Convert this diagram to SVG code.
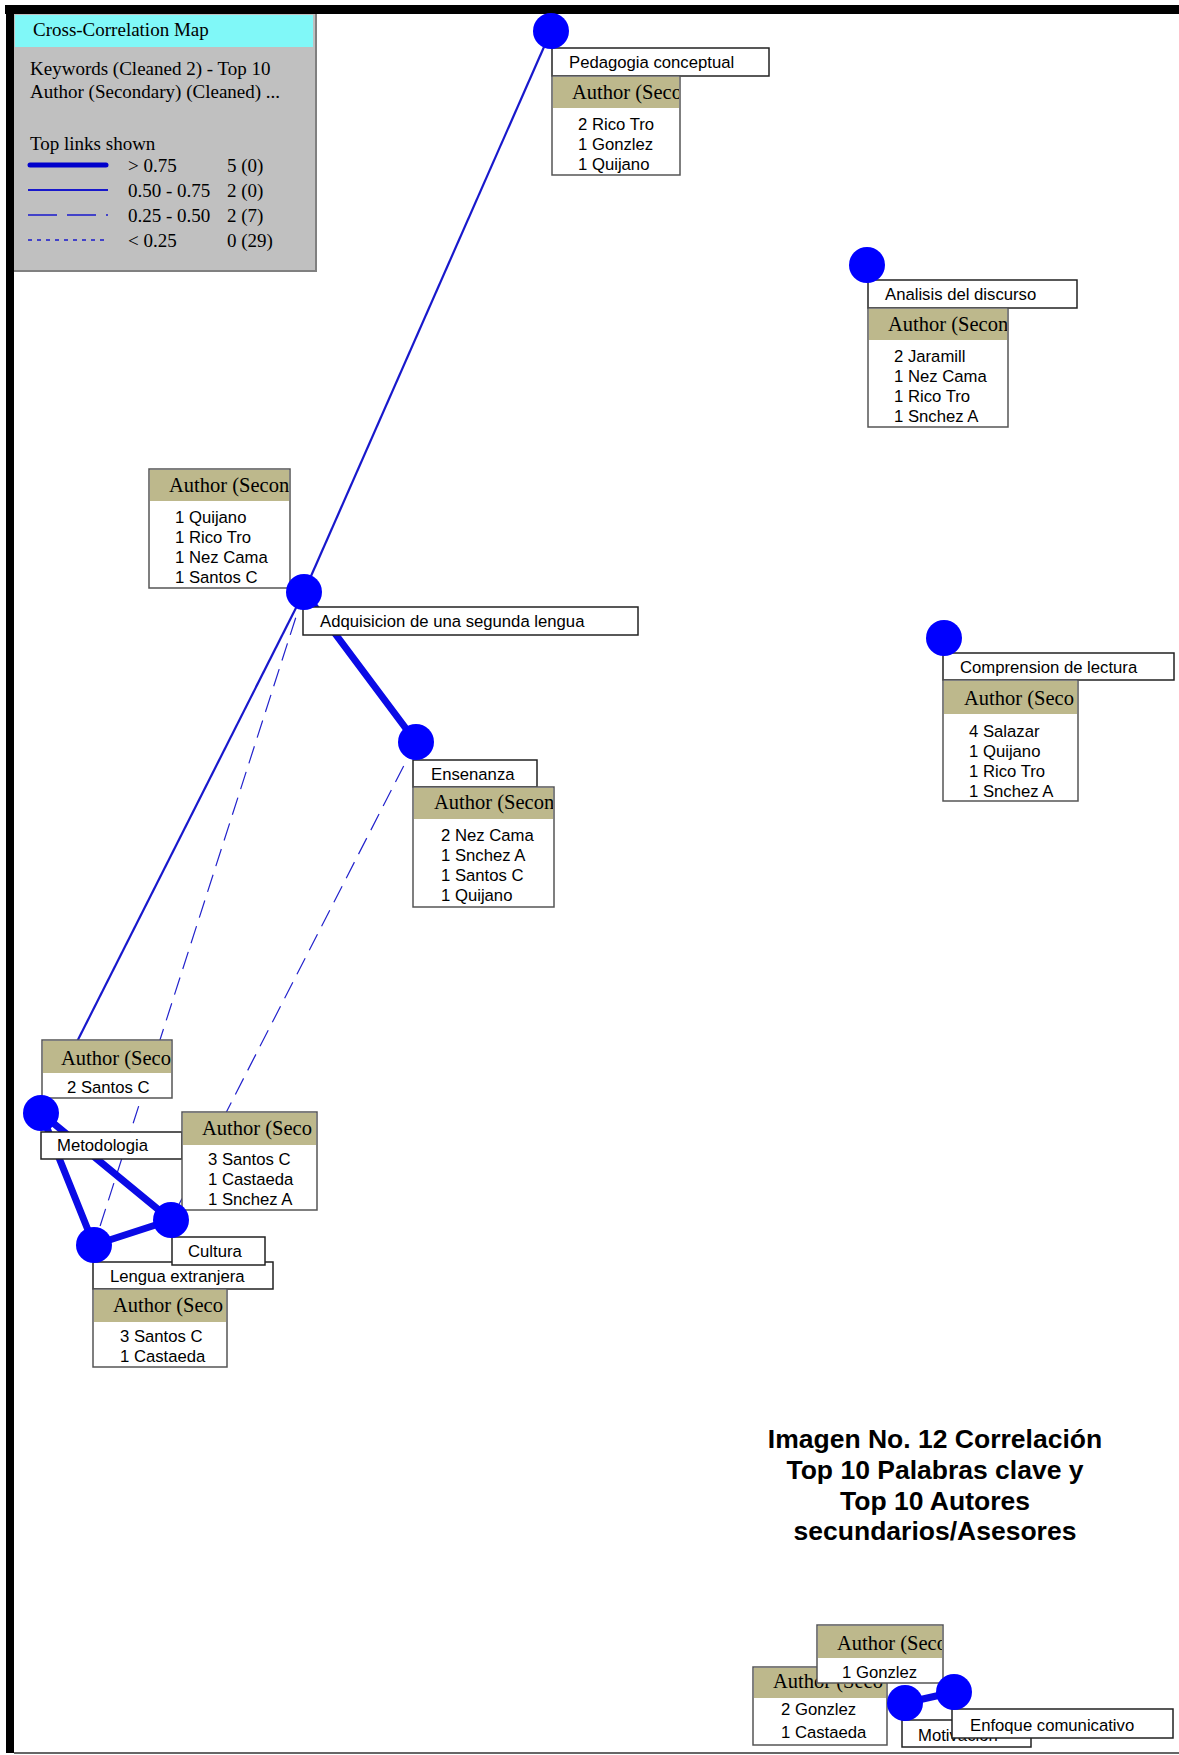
<svg xmlns="http://www.w3.org/2000/svg" width="1179" height="1755" viewBox="0 0 1179 1755">
<style>
.lb{fill:#fff;stroke:#222;stroke-width:1.5}
.ab{fill:#fff;stroke:#555;stroke-width:1.5}
.hb{fill:#bdb88c}
.t{font-family:"Liberation Sans",Arial,sans-serif;font-size:16.7px;fill:#000}
.ht{font-family:"Liberation Serif","Times New Roman",serif;font-size:20.5px;fill:#000}
.lg{font-family:"Liberation Serif","Times New Roman",serif;font-size:19px;fill:#000}
.nd{fill:#0000ff}
.thick{stroke:#0a0ae6;stroke-width:7;stroke-linecap:round;fill:none}
.med{stroke:#1818cc;stroke-width:2.2;fill:none}
.dash{stroke:#2222cc;stroke-width:1.2;stroke-dasharray:18 9;fill:none}
.cap{font-family:"Liberation Sans",Arial,sans-serif;font-size:26.5px;font-weight:bold;fill:#000;text-anchor:middle}
</style>
<rect x="0" y="0" width="1179" height="1755" fill="#fff"/>
<rect x="5" y="5" width="1174" height="9" fill="#000"/>
<rect x="6" y="5" width="8" height="1748" fill="#000"/>
<line x1="14" y1="1753" x2="1179" y2="1753" stroke="#666" stroke-width="2"/>

<g id="connectors">
<line class="med" x1="551" y1="31" x2="304" y2="592"/>
<line class="thick" x1="304" y1="592" x2="416" y2="742"/>
<line class="med" x1="304" y1="592" x2="41" y2="1113"/>
<line class="dash" x1="304" y1="592" x2="94" y2="1245"/>
<line class="dash" x1="416" y1="742" x2="171" y2="1220"/>
<line class="thick" x1="41" y1="1113" x2="171" y2="1220"/>
<line class="thick" x1="41" y1="1113" x2="94" y2="1245"/>
<line class="thick" x1="94" y1="1245" x2="171" y2="1220"/>
<line class="thick" x1="905" y1="1703" x2="954" y2="1692"/>
</g>

<g id="legend">
<rect x="14" y="14" width="303" height="258" fill="#c0c0c0"/>
<rect x="15" y="15" width="298" height="32" fill="#80f8f8"/>
<polyline points="316,14 316,271 14,271" fill="none" stroke="#808080" stroke-width="2"/>
<text class="lg" x="33" y="36">Cross-Correlation Map</text>
<text class="lg" x="30" y="75">Keywords (Cleaned 2) - Top 10</text>
<text class="lg" x="30" y="98">Author (Secondary) (Cleaned) ...</text>
<text class="lg" x="30" y="150">Top links shown</text>
<line x1="30" y1="165" x2="106" y2="165" stroke="#0000cc" stroke-width="5" stroke-linecap="round"/>
<line x1="28" y1="190" x2="108" y2="190" stroke="#1818cc" stroke-width="2"/>
<line x1="28" y1="215" x2="108" y2="215" stroke="#1818cc" stroke-width="1.5" stroke-dasharray="29 10"/>
<line x1="28" y1="240" x2="108" y2="240" stroke="#1818cc" stroke-width="1.5" stroke-dasharray="4 5"/>
<text class="lg" x="128" y="172">&gt; 0.75</text><text class="lg" x="227" y="172">5 (0)</text>
<text class="lg" x="128" y="197">0.50 - 0.75</text><text class="lg" x="227" y="197">2 (0)</text>
<text class="lg" x="128" y="222">0.25 - 0.50</text><text class="lg" x="227" y="222">2 (7)</text>
<text class="lg" x="128" y="247">&lt; 0.25</text><text class="lg" x="227" y="247">0 (29)</text>
</g>

<g id="node-pedagogia">
<rect class="lb" x="552" y="48" width="217" height="28"/>
<text class="t" x="569" y="68">Pedagogia conceptual</text>
<rect class="ab" x="552" y="76" width="128" height="99"/>
<rect class="hb" x="553" y="77" width="126" height="31"/>
<svg x="552" y="76" width="127" height="32"><text class="ht" x="20" y="23">Author (Seco</text></svg>
<text class="t" x="578" y="130">2 Rico Tro</text>
<text class="t" x="578" y="150">1 Gonzlez</text>
<text class="t" x="578" y="170">1 Quijano</text>
<circle class="nd" cx="551" cy="31" r="18"/>
</g>

<g id="node-analisis">
<rect class="lb" x="868" y="280" width="209" height="28"/>
<text class="t" x="885" y="300">Analisis del discurso</text>
<rect class="ab" x="868" y="308" width="140" height="119"/>
<rect class="hb" x="869" y="309" width="138" height="31"/>
<svg x="868" y="308" width="139" height="32"><text class="ht" x="20" y="23">Author (Secon</text></svg>
<text class="t" x="894" y="362">2 Jaramill</text>
<text class="t" x="894" y="382">1 Nez Cama</text>
<text class="t" x="894" y="402">1 Rico Tro</text>
<text class="t" x="894" y="422">1 Snchez A</text>
<circle class="nd" cx="867" cy="265" r="18"/>
</g>

<g id="node-adquisicion">
<rect class="lb" x="303" y="607" width="335" height="28"/>
<text class="t" x="320" y="627">Adquisicion de una segunda lengua</text>
<rect class="ab" x="149" y="469" width="141" height="119"/>
<rect class="hb" x="150" y="470" width="139" height="31"/>
<svg x="149" y="469" width="140" height="32"><text class="ht" x="20" y="23">Author (Secon</text></svg>
<text class="t" x="175" y="523">1 Quijano</text>
<text class="t" x="175" y="543">1 Rico Tro</text>
<text class="t" x="175" y="563">1 Nez Cama</text>
<text class="t" x="175" y="583">1 Santos C</text>
<circle class="nd" cx="304" cy="592" r="18"/>
</g>

<g id="node-ensenanza">
<rect class="lb" x="413" y="760" width="124" height="27"/>
<text class="t" x="431" y="780">Ensenanza</text>
<rect class="ab" x="413" y="787" width="141" height="120"/>
<rect class="hb" x="414" y="788" width="139" height="31"/>
<svg x="413" y="787" width="140" height="32"><text class="ht" x="21" y="22">Author (Secon</text></svg>
<text class="t" x="441" y="841">2 Nez Cama</text>
<text class="t" x="441" y="861">1 Snchez A</text>
<text class="t" x="441" y="881">1 Santos C</text>
<text class="t" x="441" y="901">1 Quijano</text>
<circle class="nd" cx="416" cy="742" r="18"/>
</g>

<g id="node-comprension">
<rect class="lb" x="943" y="653" width="231" height="27"/>
<text class="t" x="960" y="673">Comprension de lectura</text>
<rect class="ab" x="943" y="680" width="135" height="121"/>
<rect class="hb" x="944" y="681" width="133" height="33"/>
<svg x="943" y="680" width="134" height="34"><text class="ht" x="21" y="25">Author (Seco</text></svg>
<text class="t" x="969" y="737">4 Salazar</text>
<text class="t" x="969" y="757">1 Quijano</text>
<text class="t" x="969" y="777">1 Rico Tro</text>
<text class="t" x="969" y="797">1 Snchez A</text>
<circle class="nd" cx="944" cy="638" r="18"/>
</g>

<g id="node-metodologia">
<rect class="lb" x="41" y="1132" width="141" height="27"/>
<text class="t" x="57" y="1151">Metodologia</text>
<rect class="ab" x="42" y="1040" width="130" height="58"/>
<rect class="hb" x="43" y="1041" width="128" height="32"/>
<svg x="42" y="1040" width="129" height="33"><text class="ht" x="19" y="25">Author (Seco</text></svg>
<text class="t" x="67" y="1093">2 Santos C</text>
<circle class="nd" cx="41" cy="1113" r="18"/>
</g>

<g id="node-lengua">
<rect class="lb" x="93" y="1262" width="180" height="27"/>
<text class="t" x="110" y="1282">Lengua extranjera</text>
<rect class="ab" x="93" y="1289" width="134" height="78"/>
<rect class="hb" x="94" y="1290" width="132" height="32"/>
<svg x="93" y="1289" width="133" height="33"><text class="ht" x="20" y="23">Author (Seco</text></svg>
<text class="t" x="120" y="1342">3 Santos C</text>
<text class="t" x="120" y="1362">1 Castaeda</text>
<circle class="nd" cx="94" cy="1245" r="18"/>
</g>

<g id="node-cultura">
<rect class="lb" x="172" y="1237" width="93" height="28"/>
<text class="t" x="188" y="1257">Cultura</text>
<rect class="ab" x="182" y="1112" width="135" height="98"/>
<rect class="hb" x="183" y="1113" width="133" height="32"/>
<svg x="182" y="1112" width="134" height="33"><text class="ht" x="20" y="23">Author (Seco</text></svg>
<text class="t" x="208" y="1165">3 Santos C</text>
<text class="t" x="208" y="1185">1 Castaeda</text>
<text class="t" x="208" y="1205">1 Snchez A</text>
<circle class="nd" cx="171" cy="1220" r="18"/>
</g>

<g id="node-motivacion">
<rect class="lb" x="902" y="1720" width="129" height="27"/>
<text class="t" x="918" y="1741">Motivacion</text>
<rect class="ab" x="753" y="1667" width="134" height="78"/>
<rect class="hb" x="754" y="1668" width="132" height="30"/>
<svg x="753" y="1667" width="133" height="31"><text class="ht" x="20" y="21">Author (Seco</text></svg>
<text class="t" x="781" y="1715">2 Gonzlez</text>
<text class="t" x="781" y="1738">1 Castaeda</text>
<circle class="nd" cx="905" cy="1703" r="18"/>
</g>

<g id="node-enfoque">
<rect class="lb" x="952" y="1709" width="221" height="29"/>
<text class="t" x="970" y="1731">Enfoque comunicativo</text>
<rect class="ab" x="817" y="1625" width="126" height="58"/>
<rect class="hb" x="818" y="1626" width="124" height="32"/>
<svg x="817" y="1625" width="125" height="33"><text class="ht" x="20" y="25">Author (Seco</text></svg>
<text class="t" x="842" y="1678">1 Gonzlez</text>
<circle class="nd" cx="954" cy="1692" r="18"/>
</g>

<g id="caption">
<text class="cap" x="935" y="1448">Imagen No. 12 Correlación</text>
<text class="cap" x="935" y="1479">Top 10 Palabras clave y</text>
<text class="cap" x="935" y="1510">Top 10 Autores</text>
<text class="cap" x="935" y="1540">secundarios/Asesores</text>
</g>
</svg>
